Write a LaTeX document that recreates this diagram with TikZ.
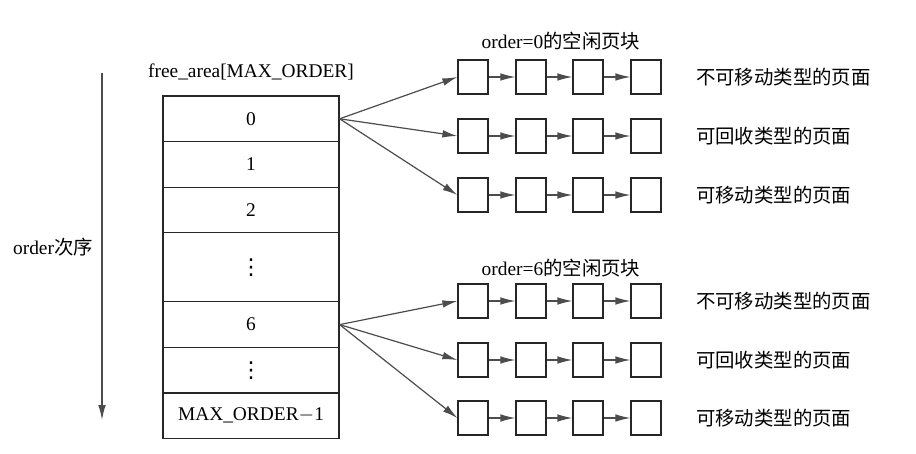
\documentclass[tikz,border=0pt]{standalone}
\usepackage{fontspec}
\setmainfont{Liberation Serif}
\newfontfamily\cjk{Noto Sans CJK SC}
\newfontfamily\symf{DejaVu Sans}
\usetikzlibrary{arrows.meta}
\begin{document}
\begin{tikzpicture}[x=0.5pt,y=-0.5pt,font=\fontsize{9.7}{11.6}\selectfont]

\tikzstyle{frame}=[rectangle,draw=black!85,line width=0.6pt,minimum width=88pt,minimum height=171.3pt,inner sep=0pt]
\tikzstyle{page}=[rectangle,draw=black!85,line width=0.6pt,minimum width=15pt,minimum height=17pt,inner sep=0pt]
\tikzstyle{link}=[draw=black!70,line width=0.6pt,-{Latex[length=7.5pt,width=3.8pt]}]
\tikzstyle{dots}=[font=\symf\fontsize{11}{12}\selectfont]

\useasboundingbox (0,0) rectangle (916,454);

% free_area table
\node (title) at (251,72) {free\_area[MAX\_ORDER]};
\node[frame] (tab) at (251,267.3) {};
\foreach \yy in {141.6,187.2,232.8,301.8,347.4,393}
  \draw[black!85,line width=0.6pt] (tab.west |- 0,\yy) -- (tab.east |- 0,\yy);
\node (o0) at (251,118.8) {0};
\node (o1) at (251,164.4) {1};
\node (o2) at (251,210) {2};
\node[dots] (od1) at (251,267.3) {⋮};
\node (o6) at (251,324.6) {6};
\node[dots] (od2) at (251,370.2) {⋮};
\node (omax) at (251,415.8) {MAX\_ORDER$-$1};

% order arrow
\coordinate (otop) at (102,73);
\coordinate (obot) at (102,420);
\draw[link] (otop) -- (obot);
\node (olabel) at (53,247) {order{\cjk 次序}};

% free page lists
\node (g0) at (561,41) {order=0{\cjk 的空闲页块}};
\node (g6) at (561,268) {order=6{\cjk 的空闲页块}};

\foreach \row/\yy/\lab in {a/77/不可移动类型的页面,b/136/可回收类型的页面,c/195/可移动类型的页面,
                          d/301/不可移动类型的页面,e/360/可回收类型的页面,f/418/可移动类型的页面} {
  \foreach \i/\xx in {1/473,2/531,3/588,4/646}
    \node[page] (\row\i) at (\xx,\yy) {};
  \draw[link] (\row1) -- (\row2);
  \draw[link] (\row2) -- (\row3);
  \draw[link] (\row3) -- (\row4);
  \node[anchor=west] (\row lab) at (689,\yy) {\cjk \lab};
}

\foreach \row in {a,b,c}
  \draw[link] (tab.east |- o0) -- (\row1.west);
\foreach \row in {d,e,f}
  \draw[link] (tab.east |- o6) -- (\row1.west);

\end{tikzpicture}
\end{document}
